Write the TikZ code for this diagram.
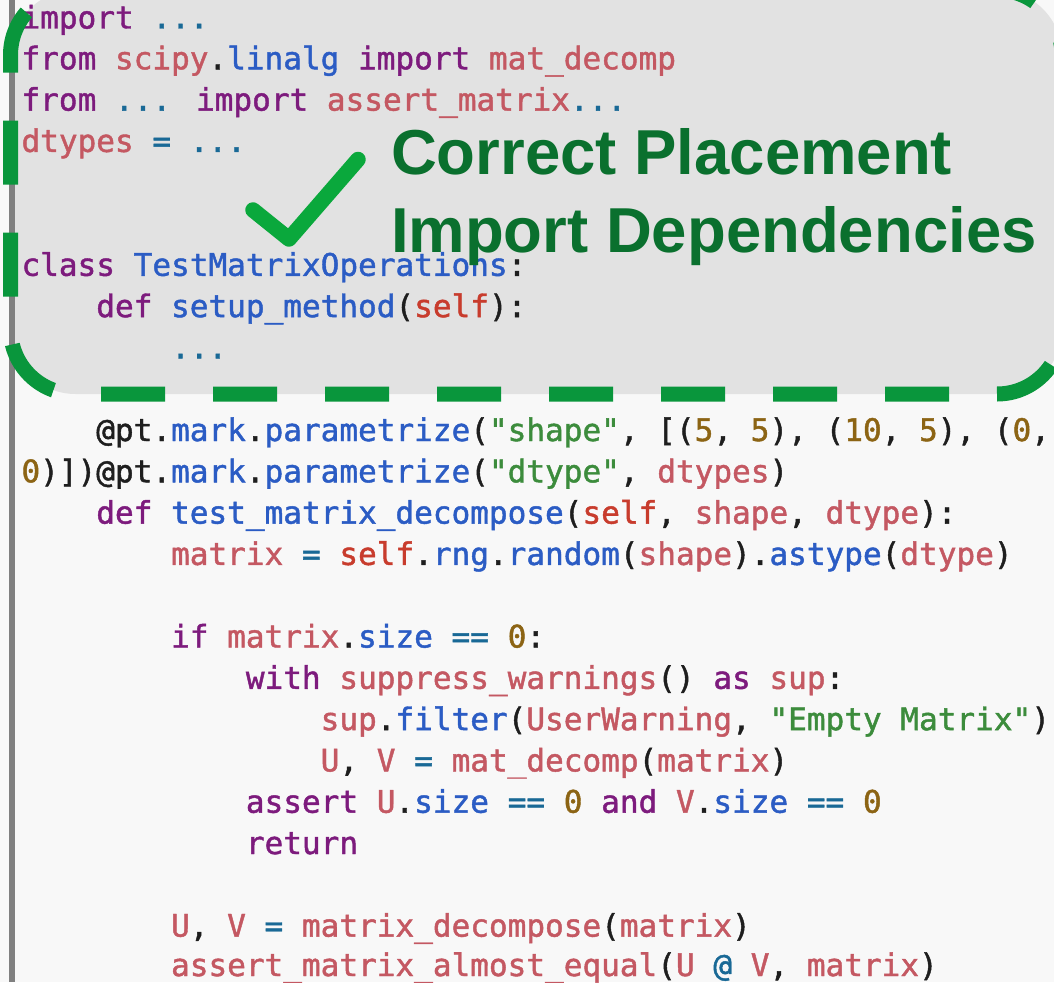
\documentclass[tikz,border=0pt]{standalone}
\usepackage{fontspec}
\newfontfamily\codefont{DejaVu Sans Mono}[FakeBold=1.4]
\newfontfamily\headfont{Liberation Sans}
\definecolor{bgc}{RGB}{248,248,248}
\definecolor{grayc}{RGB}{226,226,226}
\definecolor{barc}{RGB}{128,128,128}
\definecolor{dashc}{RGB}{9,150,60}
\definecolor{checkc}{RGB}{10,168,60}
\definecolor{headc}{RGB}{10,112,46}
\definecolor{kwc}{RGB}{125,27,125}
\definecolor{nmc}{RGB}{196,88,98}
\definecolor{blc}{RGB}{43,92,196}
\definecolor{sfc}{RGB}{200,60,45}
\definecolor{stc}{RGB}{60,140,60}
\definecolor{numc}{RGB}{140,100,20}
\definecolor{opc}{RGB}{25,105,150}
\definecolor{pnc}{RGB}{30,30,30}
\newcommand{\ckw}[1]{\textcolor{kwc}{#1}}
\newcommand{\cnm}[1]{\textcolor{nmc}{#1}}
\newcommand{\cbl}[1]{\textcolor{blc}{#1}}
\newcommand{\csf}[1]{\textcolor{sfc}{#1}}
\newcommand{\cst}[1]{\textcolor{stc}{#1}}
\newcommand{\cnum}[1]{\textcolor{numc}{#1}}
\newcommand{\cop}[1]{\textcolor{opc}{#1}}
\begin{document}
\begin{tikzpicture}[x=1pt,y=-1pt,
  codeline/.style={anchor=base west, inner sep=0pt, outer sep=0pt, text=pnc,
    font=\codefont\fontsize{31.06}{36}\selectfont},
  headline/.style={anchor=base west, inner sep=0pt, outer sep=0pt, text=headc,
    font=\headfont\bfseries\fontsize{63.5}{70}\selectfont},
  dashbd/.style={draw=dashc, line width=15pt, dash pattern=on 64pt off 48pt, rounded corners=65pt},
  checkmk/.style={draw=checkc, line width=15.5pt, line cap=round, line join=round}]
\useasboundingbox (0,0) rectangle (1054,982);
\clip (0,0) rectangle (1054,982);
\fill[bgc] (0,0) rectangle (1054,982);
% gray highlighted region
\fill[grayc, rounded corners=65pt] (10.5,-10) rectangle (1062,394);
% left border bar of code block
\fill[barc] (9,0) rectangle (15,982);
% code lines
\node[codeline] (l0) at (21.5,28.5) {\ckw{import} \cop{...}};
\node[codeline] (l1) at (21.5,69.3) {\ckw{from} \cnm{scipy}.\cbl{linalg} \ckw{import} \cnm{mat\_decomp}};
\node[codeline] (l2) at (21.5,110.6) {\ckw{from} \cop{...} \ckw{import} \cnm{assert\_matrix}\cop{...}};
\node[codeline] (l3) at (21.5,151.9) {\cnm{dtypes} \cop{=} \cop{...}};
\node[codeline] (l6) at (21.5,275.8) {\ckw{class} \cbl{TestMatrixOperations}:};
\node[codeline] (l7) at (96.3,317.1) {\ckw{def} \cbl{setup\_method}(\csf{self}):};
\node[codeline] (l8) at (171.1,358.4) {\cop{...}};
\node[codeline] (l10) at (96.3,441) {@pt.\cbl{mark}.\cbl{parametrize}(\cst{"shape"}, [(\cnum{5}, \cnum{5}), (\cnum{10}, \cnum{5}), (\cnum{0},};
\node[codeline] (l11) at (21.5,482.3) {\cnum{0})])@pt.\cbl{mark}.\cbl{parametrize}(\cst{"dtype"}, \cnm{dtypes})};
\node[codeline] (l12) at (96.3,523.6) {\ckw{def} \cbl{test\_matrix\_decompose}(\csf{self}, \cnm{shape}, \cnm{dtype}):};
\node[codeline] (l13) at (171.1,564.9) {\cnm{matrix} \cop{=} \csf{self}.\cbl{rng}.\cbl{random}(\cnm{shape}).\cbl{astype}(\cnm{dtype})};
\node[codeline] (l15) at (171.1,647.5) {\ckw{if} \cnm{matrix}.\cbl{size} \cop{==} \cnum{0}:};
\node[codeline] (l16) at (245.9,688.8) {\ckw{with} \cnm{suppress\_warnings}() \ckw{as} \cnm{sup}:};
\node[codeline] (l17) at (320.7,730.1) {\cnm{sup}.\cbl{filter}(\cnm{UserWarning}, \cst{"Empty Matrix"})};
\node[codeline] (l18) at (320.7,771.4) {\cnm{U}, \cnm{V} \cop{=} \cnm{mat\_decomp}(\cnm{matrix})};
\node[codeline] (l19) at (245.9,812.7) {\ckw{assert} \cnm{U}.\cbl{size} \cop{==} \cnum{0} \ckw{and} \cnm{V}.\cbl{size} \cop{==} \cnum{0}};
\node[codeline] (l20) at (245.9,854) {\ckw{return}};
\node[codeline] (l22) at (171.1,936.6) {\cnm{U}, \cnm{V} \cop{=} \cnm{matrix\_decompose}(\cnm{matrix})};
\node[codeline] (l23) at (171.1,976) {\cnm{assert\_matrix\_almost\_equal}(\cnm{U} \cop{@} \cnm{V}, \cnm{matrix})};
% dashed green border
\draw[dashbd] (101,394) -- (1062,394) -- (1062,200);
\draw[dashbd, dash phase=17pt] (1062,200) -- (1062,-10) -- (600,-10);
\draw[dashbd, dash phase=64pt] (101,394) -- (10.5,394) -- (10.5,-10) -- (600,-10);
% check mark
\draw[checkmk] (253,210) -- (289,239) -- (358,159.5);
% heading
\node[headline] (h1) at (391,174) {Correct Placement};
\node[headline] (h2) at (391,252) {Import Dependencies};
\end{tikzpicture}
\end{document}
